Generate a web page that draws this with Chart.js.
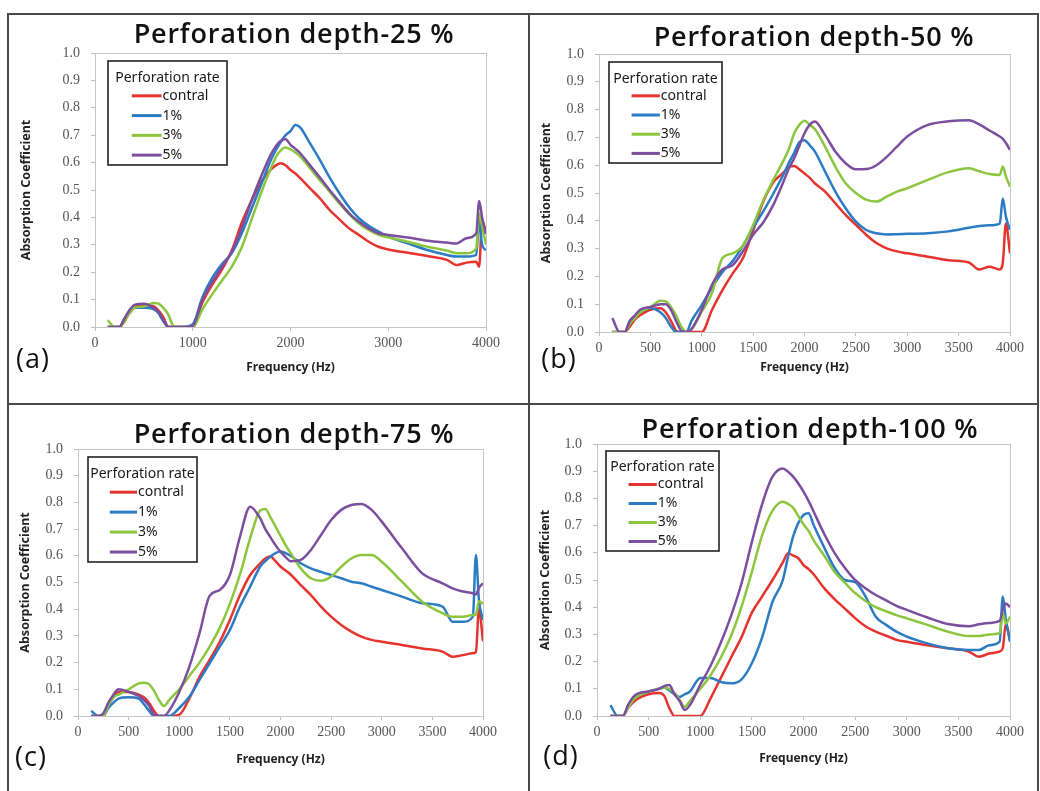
<!DOCTYPE html>
<html><head><meta charset="utf-8">
<script src="https://cdn.jsdelivr.net/npm/chart.js@4.4.0/dist/chart.umd.min.js"></script>
<style>
html,body{margin:0;padding:0;background:#fff}
body{width:1040px;height:791px;overflow:hidden;position:relative;font-family:"Noto Sans",sans-serif}
.rule{position:absolute;background:#4a4a4a}
canvas{position:absolute}
.ptitle{position:absolute;font-weight:600;font-size:27px;letter-spacing:0.8px;font-family:"Open Sans","Noto Sans",sans-serif;color:#111;white-space:nowrap;transform:translate(-50%,-50%)}
.ptag{position:absolute;font-size:27px;font-family:"Open Sans",sans-serif;color:#111;white-space:nowrap;transform:translate(-50%,-50%);letter-spacing:1px}
</style></head><body>
<div class="rule" style="left:7px;top:13px;width:1032px;height:2px"></div>
<div class="rule" style="left:7px;top:13px;width:2px;height:780px"></div>
<div class="rule" style="left:1037px;top:13px;width:2px;height:780px"></div>
<div class="rule" style="left:528px;top:13px;width:2px;height:780px"></div>
<div class="rule" style="left:7px;top:403px;width:1032px;height:2px"></div>
<script>
// ---------- data ----------
const freq = [130,200,250,300,350,400,500,600,650,700,750,800,850,900,1000,1100,1200,1300,1400,1500,1600,1700,1800,1850,1900,1950,2000,2050,2100,2200,2300,2400,2500,2600,2700,2800,2900,3000,3200,3400,3600,3700,3800,3900,3930,3960,4000];

const seriesLabels = ['contral','1%','3%','5%'];
const legendTitle = 'Perforation rate';
const panelTitles = ['Perforation depth-25 %','Perforation depth-50 %','Perforation depth-75 %','Perforation depth-100 %'];
const panelTags = ['(a)','(b)','(c)','(d)'];
const xAxisTitle = 'Frequency (Hz)';
const yAxisTitle = 'Absorption Coefficient';
const xTickSteps = [1000,500,500,500];
const yTickStep = 0.1;

// Panel (a) depth 25 %
const a_contral = [0,0,0,0.02,0.05,0.07,0.08,0.075,0.06,0.035,0,0,0,0,0, 0.09,0.155,0.21,0.28,0.38,0.46,0.53,0.575, 0.59,0.598,0.59,0.573,0.56,0.543, 0.506,0.47,0.427,0.393,0.36,0.336,0.311,0.293,0.283, 0.271,0.259,0.245,0.226,0.235,0.238, 0.22,0.39,0.34];
const a_p1 = [0,0,0,0.03,0.05,0.07,0.07,0.065,0.05,0.02,0,0,0,0,0.01, 0.11,0.18,0.23,0.27,0.34,0.43,0.52,0.61, 0.645,0.675,0.70,0.715,0.737,0.728, 0.67,0.61,0.546,0.488,0.437,0.397,0.369,0.348,0.33, 0.305,0.281,0.263,0.257,0.257,0.263, 0.39,0.3,0.28];
const a_p3 = [0.025,0,0,0.02,0.05,0.07,0.075,0.088,0.085,0.07,0.045,0.005,0,0,0, 0.065,0.12,0.17,0.22,0.29,0.39,0.49,0.58, 0.62,0.645,0.655,0.648,0.637,0.622, 0.58,0.536,0.494,0.451,0.412,0.378,0.354,0.336,0.327, 0.311,0.293,0.279,0.269,0.269,0.287, 0.415,0.37,0.3];
const a_p5 = [0,0,0,0.03,0.06,0.08,0.085,0.07,0.055,0.025,0,0,0,0,0.005, 0.1,0.165,0.22,0.275,0.36,0.46,0.55,0.63, 0.66,0.68,0.685,0.665,0.65,0.634, 0.59,0.546,0.5,0.457,0.415,0.384,0.36,0.342,0.336, 0.327,0.315,0.308,0.305,0.324,0.342, 0.46,0.40,0.34];

// Panel (b) depth 50 %
const b_contral = [0,0,0,0.02,0.045,0.06,0.08,0.085,0.07,0.04,0.005,0,0,0,0, 0.08,0.15,0.21,0.265,0.365,0.47,0.54,0.575, 0.595,0.597,0.585,0.57,0.555,0.535, 0.505,0.463,0.421,0.385,0.35,0.32,0.301,0.29,0.283, 0.271,0.258,0.25,0.225,0.235,0.225, 0.25,0.39,0.283];
const b_p1 = [0,0,0,0.04,0.055,0.07,0.085,0.07,0.05,0.02,0,0,0,0.04,0.097, 0.16,0.215,0.255,0.31,0.375,0.435,0.5,0.57, 0.61,0.645,0.683,0.69,0.672,0.65, 0.577,0.505,0.445,0.397,0.367,0.355,0.351,0.352,0.353, 0.355,0.362,0.375,0.381,0.384,0.39, 0.48,0.415,0.367];
const b_p3 = [0,0,0,0.03,0.05,0.07,0.09,0.112,0.11,0.09,0.06,0.02,0,0.01,0.073, 0.14,0.265,0.283,0.31,0.385,0.475,0.55,0.62, 0.66,0.715,0.745,0.76,0.745,0.73, 0.667,0.595,0.535,0.5,0.476,0.469,0.487,0.505,0.517, 0.547,0.575,0.589,0.578,0.568,0.565, 0.595,0.56,0.523];
const b_p5 = [0.05,0,0,0.04,0.06,0.08,0.09,0.1,0.1,0.08,0.04,0.005,0,0.01,0.08, 0.17,0.225,0.24,0.29,0.35,0.395,0.46,0.545, 0.59,0.625,0.67,0.715,0.745,0.757, 0.709,0.649,0.607,0.585,0.586,0.6,0.63,0.667,0.703, 0.745,0.758,0.762,0.747,0.725,0.703, 0.695,0.68,0.655];

// Panel (c) depth 75 %
const c_contral = [0,0,0,0.04,0.07,0.09,0.09,0.08,0.07,0.05,0.02,0,0,0,0.005, 0.066,0.147,0.21,0.278,0.36,0.453,0.528,0.572, 0.59,0.597,0.58,0.56,0.545,0.53, 0.49,0.453,0.41,0.372,0.341,0.316,0.297,0.285,0.278, 0.266,0.253,0.241,0.222,0.228,0.235, 0.24,0.4,0.28];
const c_p1 = [0.02,0,0,0.03,0.05,0.065,0.07,0.065,0.045,0.02,0,0,0,0,0.03, 0.072,0.135,0.197,0.26,0.322,0.41,0.484,0.56, 0.58,0.597,0.61,0.616,0.61,0.6, 0.572,0.553,0.54,0.528,0.516,0.503,0.497,0.484,0.472, 0.447,0.422,0.41,0.353,0.353,0.372, 0.603,0.434,0.36];
const c_p3 = [0,0,0,0.04,0.07,0.08,0.1,0.122,0.125,0.12,0.095,0.06,0.037,0.06,0.1, 0.15,0.2,0.26,0.33,0.42,0.53,0.665,0.77, 0.775,0.745,0.71,0.675,0.64,0.61, 0.553,0.516,0.507,0.522,0.559,0.59,0.603,0.603,0.578, 0.503,0.428,0.385,0.372,0.372,0.378, 0.38,0.43,0.42];
const c_p5 = [0,0,0.01,0.05,0.08,0.1,0.09,0.075,0.06,0.04,0.005,0,0,0.02,0.09, 0.185,0.31,0.45,0.472,0.528,0.672,0.784,0.74, 0.70,0.67,0.64,0.615,0.595,0.58, 0.585,0.622,0.678,0.734,0.772,0.79,0.794,0.772,0.728, 0.628,0.534,0.497,0.478,0.466,0.46, 0.455,0.48,0.497];

// Panel (d) depth 100 %
const d_contral = [0,0,0,0.03,0.05,0.065,0.08,0.085,0.075,0.03,0,0,0,0,0, 0.065,0.14,0.216,0.29,0.38,0.44,0.50,0.565, 0.598,0.59,0.58,0.555,0.54,0.52, 0.47,0.43,0.395,0.36,0.33,0.31,0.295,0.28,0.273, 0.26,0.249,0.237,0.218,0.23,0.237, 0.25,0.34,0.28];
const d_p1 = [0.04,0,0,0.03,0.06,0.075,0.09,0.1,0.105,0.095,0.08,0.07,0.08,0.09,0.14, 0.14,0.125,0.12,0.135,0.194,0.29,0.42,0.5, 0.585,0.66,0.71,0.739,0.745,0.7, 0.62,0.545,0.5,0.492,0.44,0.365,0.335,0.31,0.292, 0.267,0.249,0.243,0.243,0.26,0.273, 0.439,0.353,0.273];
const d_p3 = [0,0,0,0.03,0.06,0.075,0.09,0.1,0.105,0.1,0.085,0.06,0.034,0.055,0.1, 0.15,0.215,0.296,0.402,0.53,0.665,0.755,0.788, 0.78,0.765,0.735,0.705,0.68,0.645, 0.59,0.53,0.49,0.452,0.423,0.4,0.385,0.371,0.359, 0.335,0.31,0.294,0.294,0.3,0.304, 0.377,0.34,0.365];
const d_p5 = [0,0,0,0.04,0.07,0.083,0.09,0.1,0.11,0.114,0.08,0.055,0.022,0.04,0.115, 0.185,0.27,0.37,0.488,0.64,0.78,0.88,0.91, 0.898,0.88,0.855,0.825,0.79,0.75, 0.67,0.6,0.545,0.5,0.47,0.445,0.425,0.405,0.39, 0.362,0.338,0.33,0.337,0.342,0.35, 0.39,0.414,0.4];

const panelSeries = [
  [a_contral,a_p1,a_p3,a_p5],
  [b_contral,b_p1,b_p3,b_p5],
  [c_contral,c_p1,c_p3,c_p5],
  [d_contral,d_p1,d_p3,d_p5]
];

// ---------- style / layout ----------
const colors = ['#e6332e','#2b7cc4','#8cc63e','#7b4e9e'];
const drawOrder = [3,2,1,0];
// canvas [left, top, width, height]; plot [left, top, right, bottom]; all in page pixels
const layoutCfg = [
  {canvas:[9,15,519,388],  plot:[95,53,486,327],   yTitleX:26,  xTitleY:368, legend:[108,61,119,104], title:[294,32],  tag:[33,357]},
  {canvas:[530,15,507,388],plot:[599,54,1010,332], yTitleX:546, xTitleY:368, legend:[609,62,113,101], title:[814,35],  tag:[559,357]},
  {canvas:[9,405,519,385], plot:[78,449,483,716],  yTitleX:25,  xTitleY:760, legend:[88,457,109,105], title:[294,432], tag:[31,755]},
  {canvas:[530,405,507,385],plot:[597,444,1010,716],yTitleX:545, xTitleY:759, legend:[606,451,113,100], title:[810,427], tag:[561,754]}
];

const frameLegend = {
  id:'frameLegend',
  afterDraw(chart, args, o) {
    const ctx = chart.ctx, a = chart.chartArea;
    ctx.save();
    ctx.strokeStyle = '#c6c6c6'; ctx.lineWidth = 1;
    ctx.strokeRect(Math.round(a.left)+0.5, Math.round(a.top)+0.5, Math.round(a.right-a.left), Math.round(a.bottom-a.top));
    const [bx,by,bw,bh] = o.box;
    ctx.fillStyle = '#fff';
    ctx.fillRect(bx,by,bw,bh);
    ctx.strokeStyle = '#222'; ctx.lineWidth = 1.6;
    ctx.strokeRect(bx,by,bw,bh);
    ctx.fillStyle = '#1a1a1a';
    ctx.font = '14px "Noto Sans", sans-serif';
    ctx.textBaseline = 'middle';
    ctx.textAlign = 'center';
    ctx.fillText(o.title, bx + bw/2, by + bh*0.165);
    ctx.textAlign = 'left';
    const x0 = bx + bw*0.2, x1 = bx + bw*0.45;
    chart.data.datasets.forEach((ds,i) => {
      const y = by + bh*0.335 + i*bh*0.19;
      ctx.strokeStyle = ds.borderColor; ctx.lineWidth = 3;
      ctx.beginPath(); ctx.moveTo(x0,y); ctx.lineTo(x1,y); ctx.stroke();
      ctx.fillStyle = '#1a1a1a';
      ctx.fillText(ds.label, x1 + 1, y);
    });
    ctx.restore();
  }
};

layoutCfg.forEach((L, p) => {
  const [cl,ct,cw,ch] = L.canvas;
  const [pl,pt,pr,pb] = L.plot;
  const cv = document.createElement('canvas');
  cv.width = cw; cv.height = ch;
  cv.style.left = cl+'px'; cv.style.top = ct+'px';
  cv.style.width = cw+'px'; cv.style.height = ch+'px';
  document.body.appendChild(cv);

  const t = document.createElement('div');
  t.className = 'ptitle'; t.textContent = panelTitles[p];
  t.style.left = L.title[0]+'px'; t.style.top = L.title[1]+'px';
  document.body.appendChild(t);
  const g = document.createElement('div');
  g.className = 'ptag'; g.textContent = panelTags[p];
  g.style.left = L.tag[0]+'px'; g.style.top = L.tag[1]+'px';
  document.body.appendChild(g);

  const yW = pl - cl;
  const xH = (ct + ch) - pb;
  const datasets = panelSeries[p].map((arr, i) => ({
    label: seriesLabels[i],
    data: arr.map((v, k) => ({x: freq[k], y: v})),
    borderColor: colors[i],
    backgroundColor: colors[i],
    borderWidth: 2.5,
    pointRadius: 0,
    fill: false,
    cubicInterpolationMode: 'monotone',
    order: drawOrder[i]
  }));

  new Chart(cv, {
    type: 'line',
    data: {datasets},
    options: {
      responsive: false,
      animation: false,
      devicePixelRatio: 1,
      layout: {padding: {left: 0, top: pt - ct, right: (cl + cw) - pr, bottom: 0}},
      plugins: {
        legend: {display: false},
        tooltip: {enabled: false},
        frameLegend: {title: legendTitle, box: [L.legend[0]-cl, L.legend[1]-ct, L.legend[2], L.legend[3]]}
      },
      scales: {
        x: {
          type: 'linear', min: 0, max: 4000,
          afterFit: s => { s.height = xH; },
          ticks: {stepSize: xTickSteps[p], padding: 4, color: '#555',
                  font: {family: '"Liberation Serif", serif', size: 14}, maxRotation: 0, autoSkip: false,
                  callback: v => String(v)},
          grid: {display: true, drawOnChartArea: false, drawTicks: true, tickLength: 4, color: '#bdbdbd'},
          border: {display: true, color: '#c6c6c6'},
          title: {display: true, text: xAxisTitle, color: '#222',
                  font: {family: '"Noto Sans", sans-serif', size: 12, weight: 'bold'},
                  padding: {top: 0, bottom: (ct + ch) - L.xTitleY - 7.2}}
        },
        y: {
          min: 0, max: 1,
          afterFit: s => { s.width = yW; },
          ticks: {stepSize: yTickStep, padding: 11, color: '#555',
                  font: {family: '"Liberation Serif", serif', size: 14},
                  callback: v => v.toFixed(1)},
          grid: {display: true, drawOnChartArea: false, drawTicks: true, tickLength: 4, color: '#bdbdbd'},
          border: {display: true, color: '#c6c6c6'},
          title: {display: true, text: yAxisTitle, color: '#222',
                  font: {family: '"Noto Sans", sans-serif', size: 12.5, weight: 'bold'},
                  padding: {top: L.yTitleX - cl - 7.5, bottom: 0}}
        }
      }
    },
    plugins: [frameLegend]
  });
});
</script>
</body></html>
